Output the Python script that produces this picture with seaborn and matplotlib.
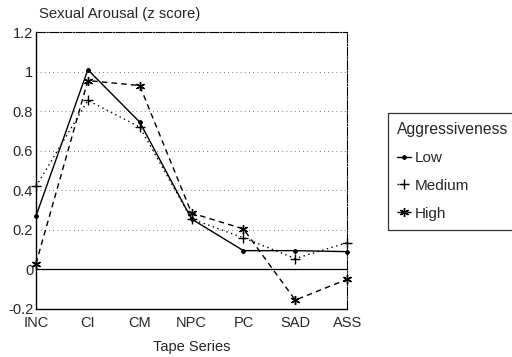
import numpy as np
import pandas as pd
import seaborn as sns
import matplotlib.pyplot as plt

tapes = ["INC", "CI", "CM", "NPC", "PC", "SAD", "ASS"]
low = [0.27, 1.01, 0.745, 0.255, 0.095, 0.095, 0.09]
medium = [0.42, 0.855, 0.72, 0.255, 0.16, 0.055, 0.135]
high = [0.03, 0.955, 0.93, 0.285, 0.205, -0.155, -0.05]
groups = ["Low", "Medium", "High"]


def main():
    sns.set_style("white")
    plt.rcParams['font.family'] = ['Liberation Sans', 'DejaVu Sans']

    df = pd.DataFrame({
        "pos": list(range(len(tapes))) * 3,
        "z": low + medium + high,
        "Aggressiveness": np.repeat(groups, len(tapes)),
    })

    fig = plt.figure(figsize=(5.12, 3.57), dpi=100)
    ax = fig.add_axes([0.0703, 0.1345, 0.6077, 0.7755])

    # all line-art markers; Low gets a tiny one so it reads as a dot
    sns.lineplot(data=df, x="pos", y="z", style="Aggressiveness", style_order=groups,
                 markers={"Low": (8, 2, 0), "Medium": "+", "High": (6, 2, 0)},
                 dashes={"Low": "", "Medium": (1, 2.5), "High": (4, 3)},
                 color="black", lw=1.0, ms=6.5, mew=1.0, mec="black", sort=False,
                 legend=False, clip_on=False, ax=ax)
    series_lines = ax.lines[:3]
    series_lines[0].set_markersize(3)

    ax.axhline(0, color="black", lw=0.9)
    for yv in [0.2, 0.4, 0.6, 0.8, 1.0]:
        ax.axhline(yv, color="black", lw=0.6, ls=(0, (1, 4)), alpha=0.7)

    ax.set_xlim(0, len(tapes) - 1)
    ax.set_ylim(-0.2, 1.2)
    ax.set_xticks(range(len(tapes)))
    ax.set_xticklabels(tapes, fontsize=10.5)
    ax.set_yticks([-0.2, 0, 0.2, 0.4, 0.6, 0.8, 1, 1.2])
    ax.set_yticklabels(["-0.2", "0", "0.2", "0.4", "0.6", "0.8", "1", "1.2"], fontsize=10.5)
    ax.tick_params(axis="y", length=0, pad=2)
    ax.tick_params(axis="x", length=0, pad=5)
    for s in ["left", "bottom"]:
        ax.spines[s].set_color("black")
        ax.spines[s].set_linewidth(1.0)
    for s in ["top", "right"]:
        ax.spines[s].set_color("black")
        ax.spines[s].set_linewidth(0.8)
        ax.spines[s].set_linestyle((0, (8, 1.5, 1, 1.5)))

    ax.set_xlabel("Tape Series", fontsize=10.5, labelpad=7)
    ax.set_ylabel("")
    fig.text(0.076, 0.962, "Sexual Arousal (z score)", fontsize=10.7, ha="left", va="center")

    leg = fig.legend(series_lines, groups, title="Aggressiveness", loc="upper left",
                     bbox_to_anchor=(0.757, 0.683), fontsize=11, title_fontsize=11.3,
                     frameon=True, fancybox=False, handlelength=0.9, handletextpad=0.3,
                     borderpad=0.6, labelspacing=0.9, edgecolor="black", borderaxespad=0)
    leg._legend_box.align = "left"
    leg.get_frame().set_linewidth(0.9)

    fig.savefig("out.png", dpi=100)


if __name__ == "__main__":
    main()
